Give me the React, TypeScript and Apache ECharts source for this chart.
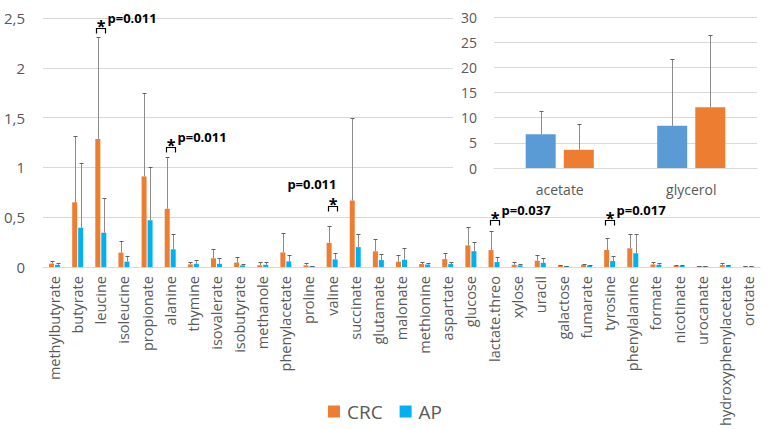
import React, { useEffect, useRef } from "react";
import * as echarts from "echarts";

const categories = [
  "methylbutyrate", "butyrate", "leucine", "isoleucine", "propionate", "alanine",
  "thymine", "isovalerate", "isobutyrate", "methanole", "phenylacetate", "proline",
  "valine", "succinate", "glutamate", "malonate", "methionine", "aspartate",
  "glucose", "lactate.threo", "xylose", "uracil", "galactose", "fumarate",
  "tyrosine", "phenylalanine", "formate", "nicotinate", "urocanate",
  "hydroxyphenylacetate", "orotate",
];
const crcMean = [0.035, 0.65, 1.285, 0.145, 0.91, 0.585, 0.027, 0.088, 0.045, 0.018, 0.147, 0.017, 0.243, 0.668, 0.158, 0.054, 0.03, 0.08, 0.218, 0.17, 0.023, 0.063, 0.013, 0.023, 0.172, 0.188, 0.026, 0.013, 0.01, 0.02, 0.007];
const crcSd = [0.03, 0.67, 1.025, 0.115, 0.84, 0.515, 0.027, 0.09, 0.055, 0.032, 0.19, 0.025, 0.17, 0.83, 0.125, 0.072, 0.02, 0.062, 0.18, 0.194, 0.027, 0.06, 0.007, 0.01, 0.122, 0.142, 0.024, 0.007, 0.005, 0.02, 0.003];
const apMean = [0.022, 0.395, 0.345, 0.055, 0.47, 0.178, 0.033, 0.032, 0.017, 0.023, 0.057, 0.01, 0.077, 0.2, 0.07, 0.073, 0.025, 0.03, 0.159, 0.05, 0.017, 0.043, 0.01, 0.017, 0.06, 0.139, 0.023, 0.013, 0.01, 0.017, 0.007];
const apSd = [0.02, 0.645, 0.345, 0.06, 0.53, 0.15, 0.036, 0.055, 0.012, 0.03, 0.065, 0.005, 0.066, 0.132, 0.057, 0.118, 0.02, 0.02, 0.09, 0.05, 0.01, 0.047, 0.005, 0.005, 0.052, 0.19, 0.017, 0.005, 0.004, 0.006, 0.003];

const mainTicks = [0, 0.5, 1, 1.5, 2, 2.5];

const sigCategories = ["leucine", "alanine", "valine", "lactate.threo", "tyrosine"];
const sigBracketValue = [2.4, 1.21, 0.615, 0.476, 0.476];
const sigLabels = ["p=0.011", "p=0.011", "p=0.011", "p=0.037", "p=0.017"];
const sigLabelAbove = [false, false, true, false, false];

const insetCategories = ["acetate", "glycerol"];
const insetApMean = [6.73, 8.37];
const insetApSd = [4.67, 13.33];
const insetCrcMean = [3.62, 12.06];
const insetCrcSd = [5.08, 14.34];
const insetTicks = [0, 5, 10, 15, 20, 25, 30];

const ORANGE = "#ED7D31";
const CYAN = "#00B0F0";
const BLUE = "#5B9BD5";
const GREY_TXT = "#595959";
const GRID = "#D9D9D9";
const WHISKER = "#8C8C8C";
const FONT = "'Open Sans', sans-serif";

function errorSeries(name: string, xIdx: number, means: number[], sds: number[], offset: number, z: number) {
  return {
    name,
    type: "custom",
    xAxisIndex: xIdx,
    yAxisIndex: xIdx,
    z,
    silent: true,
    data: means.map((m, i) => [i, m, sds[i]]),
    renderItem: (params: any, api: any) => {
      const i = api.value(0);
      const m = api.value(1);
      const s = api.value(2);
      const b = api.coord([i, m]);
      const t = api.coord([i, m + s]);
      const x = Math.round(b[0] + offset) + 0.5;
      const ty = Math.round(t[1]) + 0.5;
      return {
        type: "group",
        children: [
          { type: "line", shape: { x1: x, y1: b[1], x2: x, y2: ty }, style: { stroke: WHISKER, lineWidth: 1 } },
          { type: "line", shape: { x1: x - 2, y1: ty, x2: x + 2, y2: ty }, style: { stroke: "#606060", lineWidth: 1 } },
        ],
      };
    },
  };
}

export default function App() {
  const ref = useRef<HTMLDivElement>(null);
  useEffect(() => {
    if (!ref.current) return;
    const chart = echarts.init(ref.current, null, { renderer: "svg" });
    const sigData = sigCategories.map((c, k) => [categories.indexOf(c), sigBracketValue[k], k]);
    const option: any = {
      animation: false,
      backgroundColor: "#fff",
      textStyle: { fontFamily: FONT },
      grid: [
        { left: 43, right: 10, top: 18, bottom: 159 },
        { left: 494, right: 13, top: 17, bottom: 261 },
      ],
      graphic: [
        { type: "rect", z: 5, shape: { x: 453, y: 0, width: 317, height: 205 }, style: { fill: "#fff" }, silent: true },
      ],
      legend: {
        data: ["CRC", "AP"],
        left: "center",
        top: 397,
        icon: "rect",
        itemWidth: 12,
        itemHeight: 12,
        itemGap: 17,
        textStyle: { fontSize: 19, color: GREY_TXT, fontFamily: FONT, padding: [0, 0, 0, 2] },
      },
      xAxis: [
        {
          type: "category",
          gridIndex: 0,
          data: categories,
          axisLine: { lineStyle: { color: GRID } },
          axisTick: { show: false },
          axisLabel: { rotate: 90, interval: 0, margin: 9, fontSize: 14.5, color: GREY_TXT, fontFamily: FONT },
        },
        {
          type: "category",
          gridIndex: 1,
          z: 10,
          data: insetCategories,
          axisLine: { lineStyle: { color: GRID } },
          axisTick: { show: false },
          axisLabel: { margin: 14, fontSize: 14, color: GREY_TXT, fontFamily: FONT },
        },
      ],
      yAxis: [
        {
          type: "value",
          gridIndex: 0,
          min: mainTicks[0],
          max: mainTicks[mainTicks.length - 1],
          interval: 0.5,
          axisLine: { show: false },
          axisTick: { show: false },
          splitLine: { lineStyle: { color: GRID } },
          axisLabel: {
            margin: 18,
            fontSize: 15,
            color: GREY_TXT,
            fontFamily: FONT,
            formatter: (v: number) => String(v).replace(".", ","),
          },
        },
        {
          type: "value",
          gridIndex: 1,
          z: 10,
          min: insetTicks[0],
          max: insetTicks[insetTicks.length - 1],
          interval: 5,
          axisLine: { show: false },
          axisTick: { show: false },
          splitLine: { lineStyle: { color: GRID } },
          axisLabel: { margin: 17, fontSize: 14, color: GREY_TXT, fontFamily: FONT },
        },
      ],
      series: [
        { name: "CRC", type: "bar", xAxisIndex: 0, yAxisIndex: 0, data: crcMean, barWidth: 5, barGap: "20%", itemStyle: { color: ORANGE } },
        { name: "AP", type: "bar", xAxisIndex: 0, yAxisIndex: 0, data: apMean, barWidth: 5, barGap: "20%", itemStyle: { color: CYAN } },
        errorSeries("crcErr", 0, crcMean, crcSd, -3, 3),
        errorSeries("apErr", 0, apMean, apSd, 3, 3),
        { name: "insetAP", type: "bar", xAxisIndex: 1, yAxisIndex: 1, z: 11, data: insetApMean, barWidth: 30, barGap: "27%", itemStyle: { color: BLUE } },
        { name: "insetCRC", type: "bar", xAxisIndex: 1, yAxisIndex: 1, z: 11, data: insetCrcMean, barWidth: 30, barGap: "27%", itemStyle: { color: ORANGE } },
        errorSeries("insetApErr", 1, insetApMean, insetApSd, -19, 12),
        errorSeries("insetCrcErr", 1, insetCrcMean, insetCrcSd, 19, 12),
        {
          name: "sig",
          type: "custom",
          xAxisIndex: 0,
          yAxisIndex: 0,
          z: 12,
          silent: true,
          data: sigData,
          renderItem: (params: any, api: any) => {
            const i = api.value(0);
            const v = api.value(1);
            const k = api.value(2);
            const p = api.coord([i, v]);
            const xl = Math.round(p[0] - 4.5) + 0.5;
            const xr = Math.round(p[0] + 4.5) + 0.5;
            const y = Math.round(p[1]) + 0.5;
            const cx = (xl + xr) / 2;
            const above = sigLabelAbove[k];
            const children: any[] = [
              { type: "polyline", shape: { points: [[xl, y + 5], [xl, y], [xr, y], [xr, y + 5]] }, style: { stroke: "#000", lineWidth: 1.2, fill: null } },
              { type: "text", style: { text: "*", x: cx, y: y + 3, align: "center", verticalAlign: "bottom", fontSize: 16, lineHeight: 12, fontWeight: "bold", fill: "#000", fontFamily: FONT } },
            ];
            if (above) {
              children.push({ type: "text", style: { text: sigLabels[k], x: xr - 1, y: y - 16, align: "right", verticalAlign: "bottom", fontSize: 13, lineHeight: 14, fontWeight: "bold", fill: "#000", fontFamily: FONT } });
            } else {
              children.push({ type: "text", style: { text: sigLabels[k], x: xr + 2, y: y - 4, align: "left", verticalAlign: "bottom", fontSize: 13, fontWeight: "bold", fill: "#000", fontFamily: FONT } });
            }
            return { type: "group", children };
          },
        },
      ],
    };
    chart.setOption(option);
    return () => chart.dispose();
  }, []);
  return <div ref={ref} style={{ position: "fixed", left: 0, top: 0, width: 770, height: 429 }} />;
}
